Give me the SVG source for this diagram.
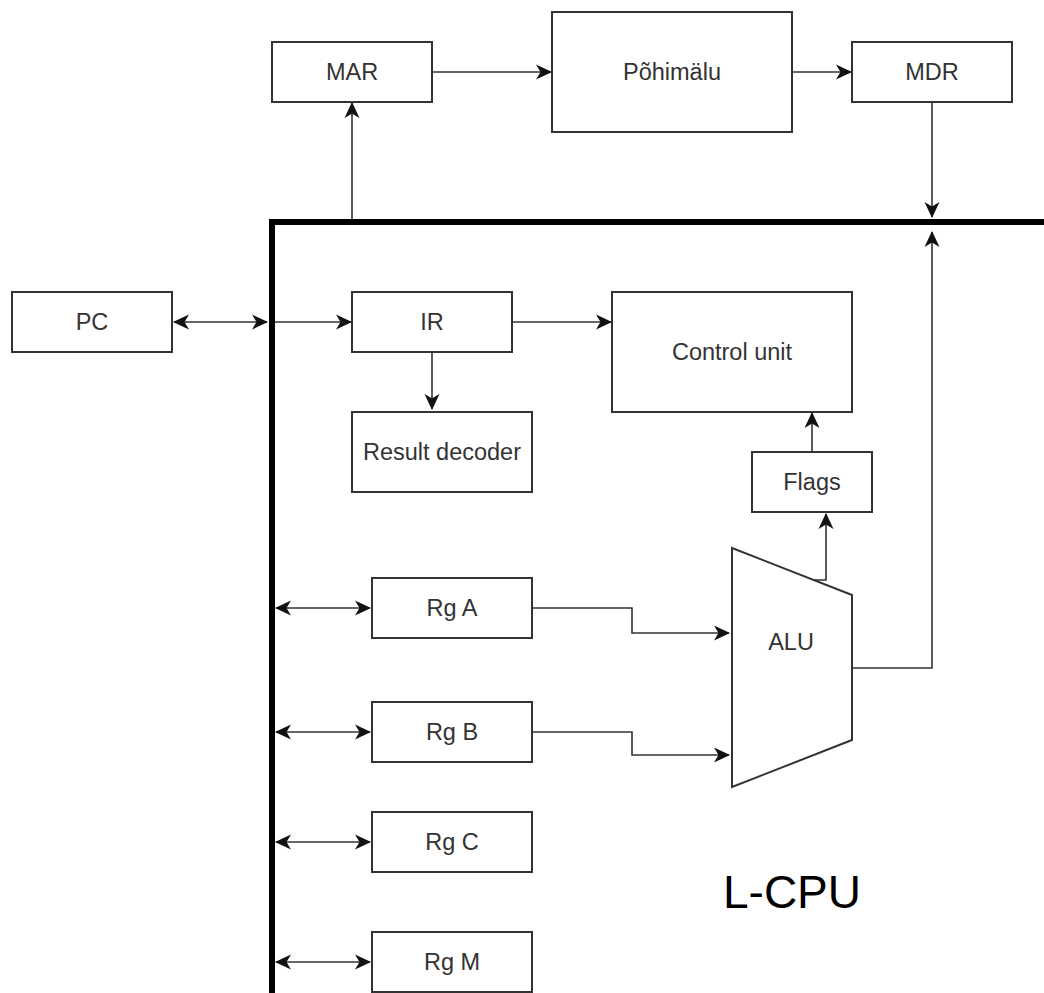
<svg xmlns="http://www.w3.org/2000/svg" width="1044" height="993" viewBox="0 0 1044 993">
  <style>
    .box { fill: #ffffff; stroke: #333333; stroke-width: 2; }
    .lbl { font-family: "Liberation Sans", Arial, Helvetica, sans-serif; font-size: 23.5px; fill: #333333; text-anchor: middle; }
    .big { font-family: "Liberation Sans", Arial, Helvetica, sans-serif; font-size: 46px; fill: #000000; text-anchor: middle; }
    .wire { fill: none; stroke: #333333; stroke-width: 1.6; }
    .arr { marker-end: url(#ah); }
    .dbl { marker-start: url(#ah); marker-end: url(#ah); }
    .bus { fill: none; stroke: #000000; stroke-width: 6; stroke-linejoin: miter; }
  </style>
  <defs>
    <marker id="ah" viewBox="0 0 16 16" refX="15" refY="8" markerWidth="16" markerHeight="16" markerUnits="userSpaceOnUse" orient="auto-start-reverse">
      <path d="M0,0.5 L16,8 L0,15.5 L4.5,8 Z" fill="#111111"/>
    </marker>
  </defs>
  <rect width="1044" height="993" fill="#ffffff"/>

  <g id="connectors">
    <path class="bus" d="M1044 222 H272 V993"/>
    <path class="wire arr" d="M432 72 H551"/>
    <path class="wire arr" d="M792 72 H851"/>
    <path class="wire arr" d="M352 219 V103"/>
    <path class="wire arr" d="M932 102 V217"/>
    <path class="wire arr" d="M852 668 H932 V232"/>
    <path class="wire dbl" d="M174 322 H267"/>
    <path class="wire arr" d="M275 322 H351"/>
    <path class="wire arr" d="M512 322 H611"/>
    <path class="wire arr" d="M432 352 V409"/>
    <path class="wire arr" d="M812 452 V413"/>
    <path class="wire arr" d="M813 580 H826 V514"/>
    <path class="wire arr" d="M532 608 H632 V633 H729"/>
    <path class="wire arr" d="M532 732 H632 V755 H729"/>
    <path class="wire dbl" d="M276 608 H370"/>
    <path class="wire dbl" d="M276 732 H370"/>
    <path class="wire dbl" d="M276 842 H370"/>
    <path class="wire dbl" d="M276 962 H370"/>
  </g>

  <g id="mar"><rect class="box" x="272" y="42" width="160" height="60"/><text class="lbl" x="352" y="80.4">MAR</text></g>
  <g id="pohimalu"><rect class="box" x="552" y="12" width="240" height="120"/><text class="lbl" x="672" y="80.4">Põhimälu</text></g>
  <g id="mdr"><rect class="box" x="852" y="42" width="160" height="60"/><text class="lbl" x="932" y="80.4">MDR</text></g>
  <g id="pc"><rect class="box" x="12" y="292" width="160" height="60"/><text class="lbl" x="92" y="330.4">PC</text></g>
  <g id="ir"><rect class="box" x="352" y="292" width="160" height="60"/><text class="lbl" x="432" y="330.4">IR</text></g>
  <g id="control-unit"><rect class="box" x="612" y="292" width="240" height="120"/><text class="lbl" x="732" y="360.4">Control unit</text></g>
  <g id="result-decoder"><rect class="box" x="352" y="412" width="180" height="80"/><text class="lbl" x="442" y="460.4">Result decoder</text></g>
  <g id="flags"><rect class="box" x="752" y="452" width="120" height="60"/><text class="lbl" x="812" y="490.4">Flags</text></g>
  <g id="alu"><polygon class="box" points="732,548 852,595 852,740 732,787"/><text class="lbl" x="791" y="650">ALU</text></g>
  <g id="rg-a"><rect class="box" x="372" y="578" width="160" height="60"/><text class="lbl" x="452" y="616.4">Rg A</text></g>
  <g id="rg-b"><rect class="box" x="372" y="702" width="160" height="60"/><text class="lbl" x="452" y="740.4">Rg B</text></g>
  <g id="rg-c"><rect class="box" x="372" y="812" width="160" height="60"/><text class="lbl" x="452" y="850.4">Rg C</text></g>
  <g id="rg-m"><rect class="box" x="372" y="932" width="160" height="60"/><text class="lbl" x="452" y="970.4">Rg M</text></g>
  <g id="l-cpu"><text class="big" x="792" y="908">L-CPU</text></g>
</svg>
